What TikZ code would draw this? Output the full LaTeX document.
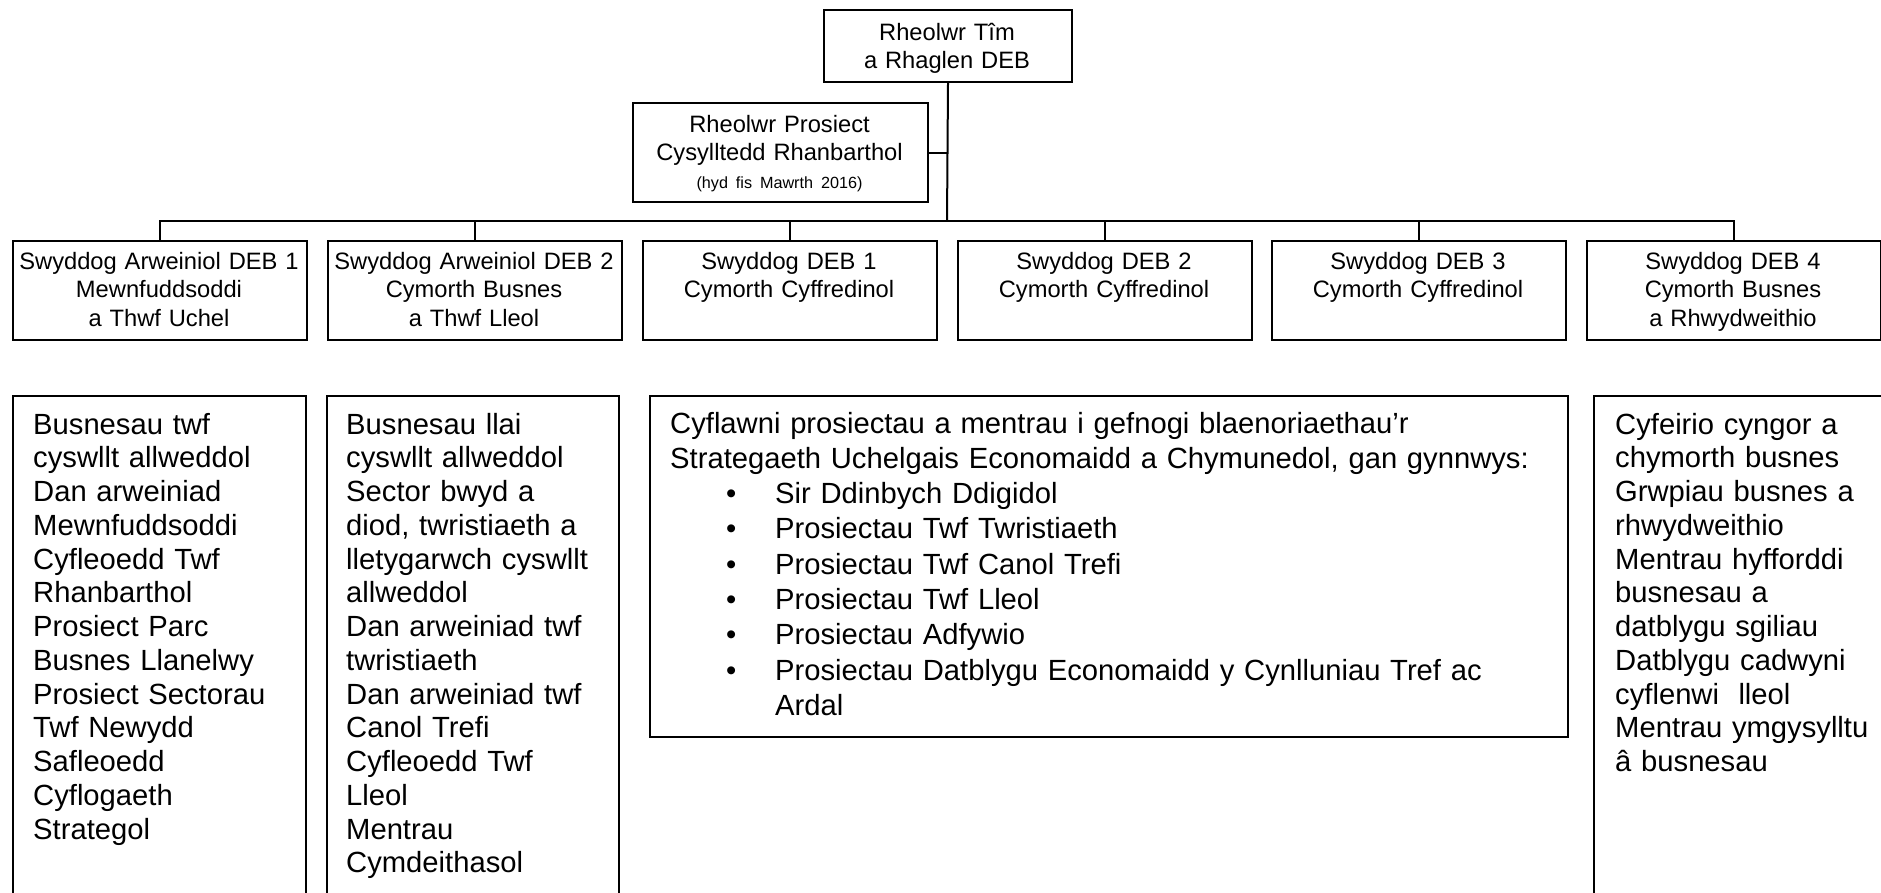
\documentclass[tikz,border=0pt]{standalone}
\usepackage{fontspec}
\setmainfont{Liberation Sans}
\begin{document}
\begin{tikzpicture}[x=1pt,y=1pt,
  box/.style={draw, line width=2pt, inner sep=0pt, anchor=north west},
  conn/.style={line width=2pt},
  headtext/.style={anchor=base, align=center, inner sep=0pt, text width=300pt,
    font=\fontsize{23.7}{28}\selectfont},
  rowtext/.style={anchor=base, align=center, inner sep=0pt, text width=294pt,
    font=\fontsize{23.7}{28.3}\selectfont},
  listtext/.style={anchor=base west, align=left, inner sep=0pt, text width=285pt,
    font=\fontsize{29.2}{33.75}\selectfont}
]
\useasboundingbox (0,0) rectangle (1881,-892);
\clip (0,0) rectangle (1881,-892);

% top level
\node[box, minimum width=248pt, minimum height=72pt] (tm) at (823,-9) {};
\node[headtext] (tmt) at (947,-40.7) {Rheolwr Tîm\\a Rhaglen DEB};

\node[box, minimum width=295pt, minimum height=99pt] (rp) at (632,-102) {};
\node[headtext] (rpt) at (779.5,-132.7) {Rheolwr Prosiect\\Cysylltedd Rhanbarthol\\\mbox{\fontsize{16.2}{20}\selectfont(hyd fis Mawrth 2016)}};

% second row
\node[box, minimum width=294pt, minimum height=99pt] (s1) at (12,-240) {};
\node[box, minimum width=294pt, minimum height=99pt] (s2) at (327,-240) {};
\node[box, minimum width=294pt, minimum height=99pt] (s3) at (642,-240) {};
\node[box, minimum width=294pt, minimum height=99pt] (s4) at (957,-240) {};
\node[box, minimum width=294pt, minimum height=99pt] (s5) at (1271,-240) {};
\node[box, minimum width=294pt, minimum height=99pt] (s6) at (1586,-240) {};

\node[rowtext] (s1t) at (159,-269.5) {Swyddog Arweiniol DEB 1\\Mewnfuddsoddi\\a Thwf Uchel};
\node[rowtext] (s2t) at (474,-269.5) {Swyddog Arweiniol DEB 2\\Cymorth Busnes\\a Thwf Lleol};
\node[rowtext] (s3t) at (789,-269.5) {Swyddog DEB 1\\Cymorth Cyffredinol};
\node[rowtext] (s4t) at (1104,-269.5) {Swyddog DEB 2\\Cymorth Cyffredinol};
\node[rowtext] (s5t) at (1418,-269.5) {Swyddog DEB 3\\Cymorth Cyffredinol};
\node[rowtext] (s6t) at (1733,-269.5) {Swyddog DEB 4\\Cymorth Busnes\\a Rhwydweithio};

% connectors
\coordinate (bus) at (947,-221);
\draw[conn] (tm.south) -- (bus);
\draw[conn] (rp.east) -- (rp.east -| tm.south);
\foreach \n in {s1,s2,s3,s4,s5,s6}
  \draw[conn] (bus) -| (\n.north);

% bottom boxes
\node[box, minimum width=293pt, minimum height=600pt] (bA) at (12,-395) {};
\node[box, minimum width=292pt, minimum height=600pt] (bB) at (326,-395) {};
\node[box, minimum width=918pt, minimum height=341pt] (bC) at (649,-395) {};
\node[box, minimum width=400pt, minimum height=600pt] (bD) at (1593,-395) {};

\node[listtext] (tA) at (33,-434) {Busnesau twf\\cyswllt allweddol\\Dan arweiniad\\Mewnfuddsoddi\\Cyfleoedd Twf\\Rhanbarthol\\Prosiect Parc\\Busnes Llanelwy\\Prosiect Sectorau\\Twf Newydd\\Safleoedd\\Cyflogaeth\\Strategol};

\node[listtext] (tB) at (346,-434) {Busnesau llai\\cyswllt allweddol\\Sector bwyd a\\diod, twristiaeth a\\lletygarwch cyswllt\\allweddol\\Dan arweiniad twf\\twristiaeth\\Dan arweiniad twf\\Canol Trefi\\Cyfleoedd Twf\\Lleol\\Mentrau\\Cymdeithasol};

\node[listtext, text width=890pt, font=\fontsize{29.2}{35.3}\selectfont] (tC) at (670,-433) {Cyflawni prosiectau a mentrau i gefnogi blaenoriaethau’r\\
Strategaeth Uchelgais Economaidd a Chymunedol, gan gynnwys:\\
\hspace*{56pt}\makebox[49pt][l]{\textbullet}Sir Ddinbych Ddigidol\\
\hspace*{56pt}\makebox[49pt][l]{\textbullet}Prosiectau Twf Twristiaeth\\
\hspace*{56pt}\makebox[49pt][l]{\textbullet}Prosiectau Twf Canol Trefi\\
\hspace*{56pt}\makebox[49pt][l]{\textbullet}Prosiectau Twf Lleol\\
\hspace*{56pt}\makebox[49pt][l]{\textbullet}Prosiectau Adfywio\\
\hspace*{56pt}\makebox[49pt][l]{\textbullet}Prosiectau Datblygu Economaidd y Cynlluniau Tref ac\\
\hspace*{105pt}Ardal};

\node[listtext] (tD) at (1615,-434) {Cyfeirio cyngor a\\chymorth busnes\\Grwpiau busnes a\\rhwydweithio\\Mentrau hyfforddi\\busnesau a\\datblygu sgiliau\\Datblygu cadwyni\\cyflenwi\ \ lleol\\Mentrau ymgysylltu\\â busnesau};
\end{tikzpicture}
\end{document}
